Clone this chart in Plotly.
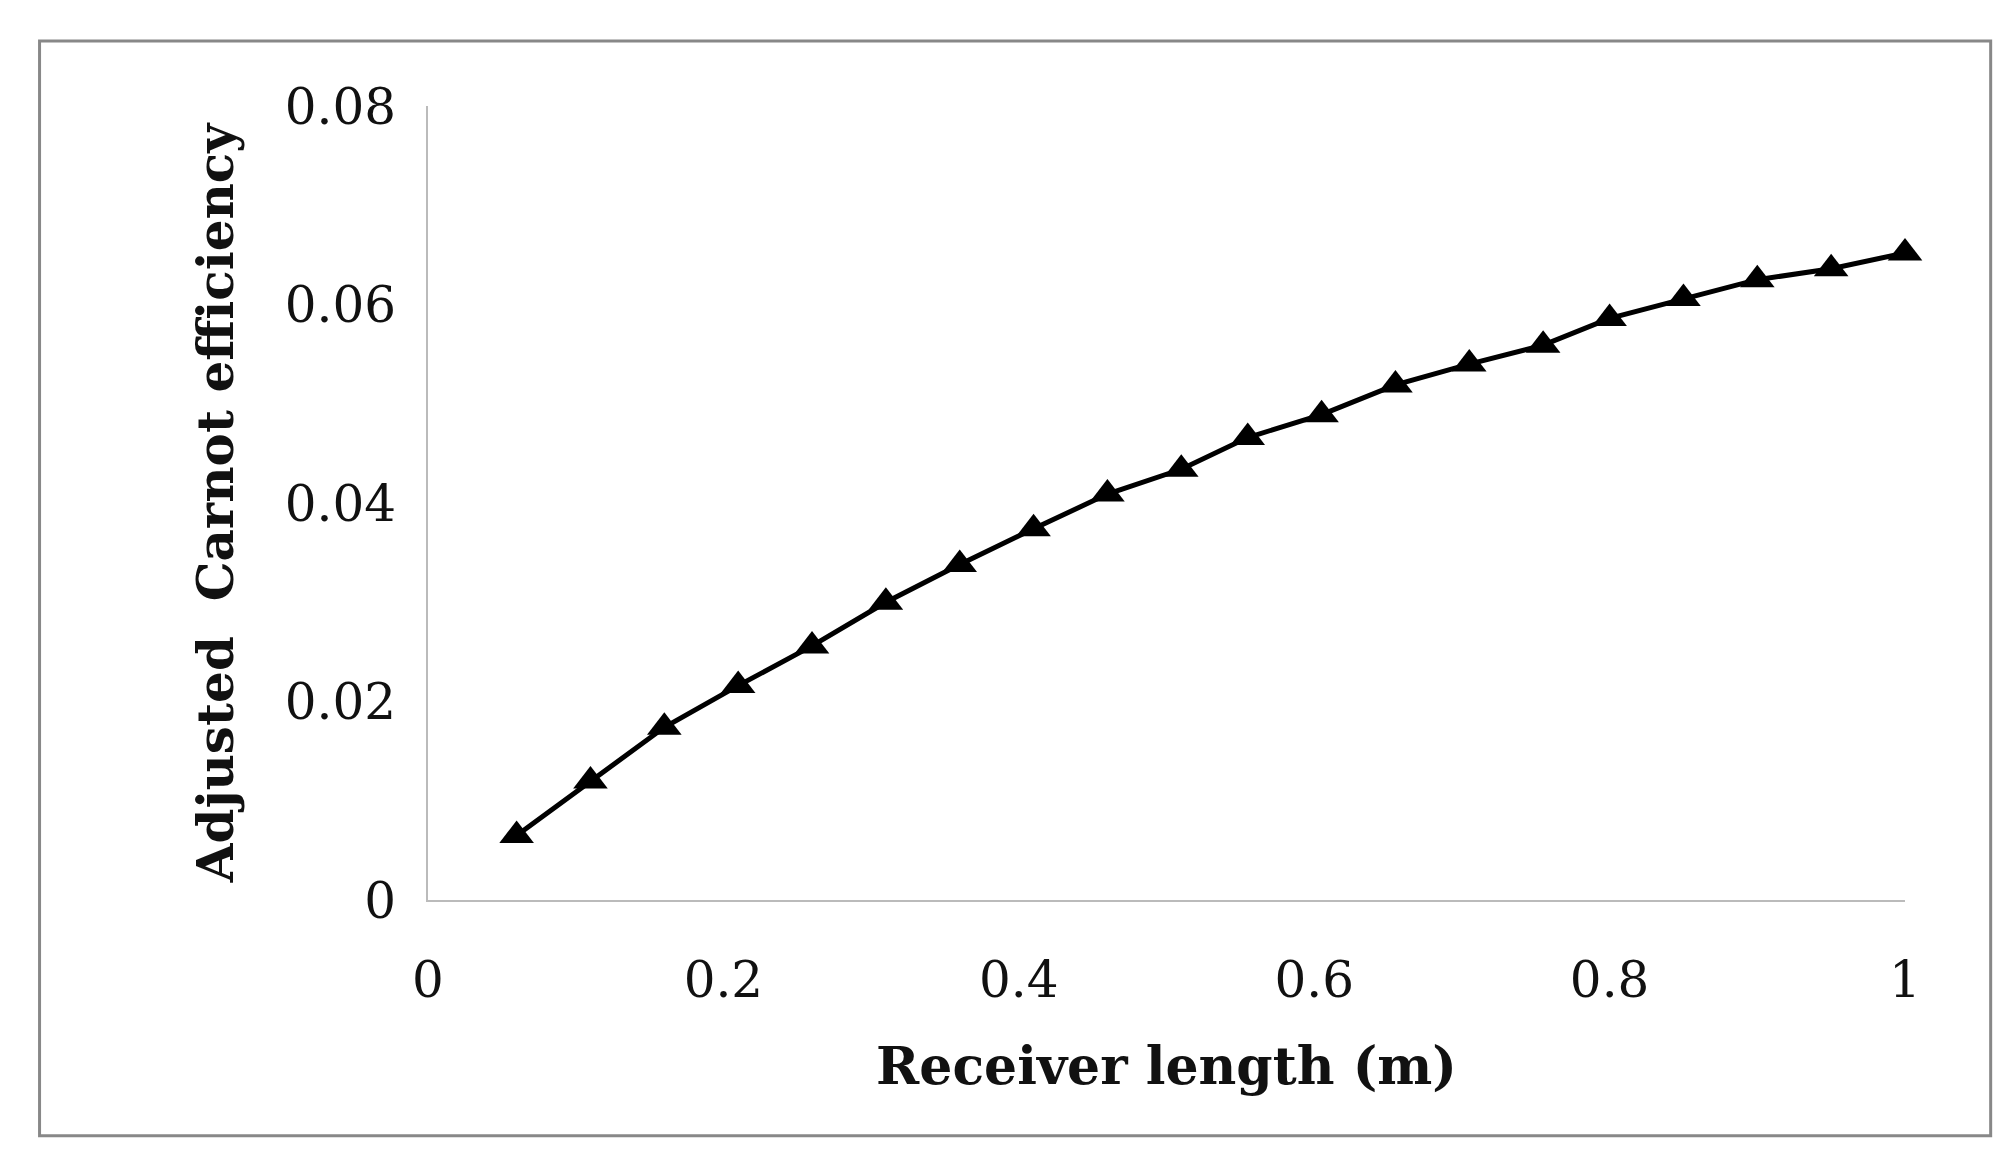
import plotly.graph_objects as go

receiver_length = [0.06, 0.11, 0.16, 0.21, 0.26, 0.31, 0.36, 0.41, 0.46, 0.51,
                   0.555, 0.605, 0.655, 0.705, 0.755, 0.80, 0.85, 0.90, 0.95, 1.0]
efficiency = [0.0065, 0.0120, 0.0174, 0.0216, 0.0256, 0.0300, 0.0338, 0.0374, 0.0409, 0.0434,
              0.0466, 0.0489, 0.0519, 0.0540, 0.0559, 0.0586, 0.0606, 0.0625, 0.0636, 0.0652]
x_ticks = [0, 0.2, 0.4, 0.6, 0.8, 1]
x_labels = ["0", "0.2", "0.4", "0.6", "0.8", "1"]
y_ticks = [0, 0.02, 0.04, 0.06, 0.08]
y_labels = ["0", "0.02", "0.04", "0.06", "0.08"]

font = "DejaVu Serif"
fig = go.Figure(go.Scatter(
    x=receiver_length, y=efficiency, mode="lines+markers",
    line=dict(color="black", width=5),
    marker=dict(symbol="triangle-up", size=30, color="black"),
    cliponaxis=False,
))
fig.update_layout(
    width=2015, height=1161, plot_bgcolor="white", paper_bgcolor="white",
    margin=dict(l=420, r=118, t=98, b=269), showlegend=False,
    font=dict(family=font, color="#111", size=50),
    xaxis=dict(range=[0, 1.0], tickvals=x_ticks, ticktext=x_labels, showgrid=False,
               zeroline=False, showline=True, linecolor="#bbbbbb", linewidth=2,
               ticks="", ticklabelstandoff=35,
               title=dict(text="<b>Receiver length (m)</b>", standoff=40,
                          font=dict(size=52, family=font))),
    yaxis=dict(range=[0, 0.08], tickvals=y_ticks, ticktext=y_labels, showgrid=False,
               zeroline=False, showline=True, linecolor="#bbbbbb", linewidth=2,
               ticks="", ticklabelstandoff=20,
               title=dict(text="<b>Adjusted  Carnot efficiency</b>", standoff=35,
                          font=dict(size=50, family=font))),
    shapes=[dict(type="rect", xref="paper", yref="paper", x0=-0.263, x1=1.058,
                 y0=-0.297, y1=1.082, line=dict(color="#888888", width=3))],
)
fig.write_html("out.html")
